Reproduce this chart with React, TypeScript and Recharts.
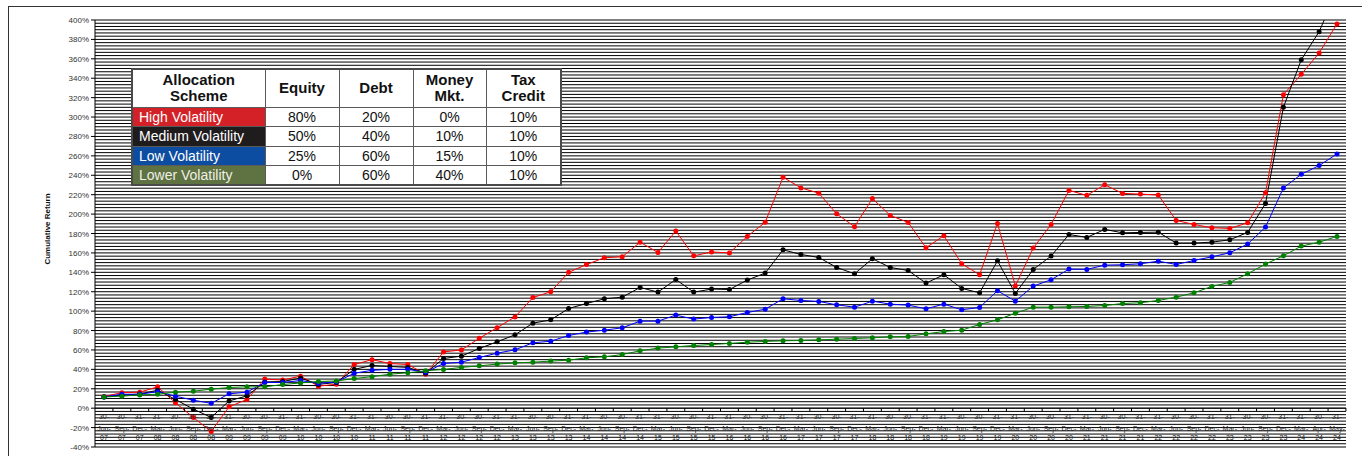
import React from 'react';
import { LineChart, Line, XAxis, YAxis, CartesianGrid, ReferenceLine } from 'recharts';

const WIDTH = 1362;
const HEIGHT = 456;
const Y_AXIS_W = 95;
const X_AXIS_H = 1;
const X_PAD = 9;
const MARGIN = { top: 20, right: 16, bottom: 8, left: 0 };
const Y_MIN = -40;
const Y_MAX = 400;
const FONT = "Arial, 'Liberation Sans', sans-serif";

const dates = [
  '30-Jun-07', '30-Sep-07', '31-Dec-07', '31-Mar-08', '30-Jun-08', '30-Sep-08', '31-Dec-08',
  '31-Mar-09', '30-Jun-09', '30-Sep-09', '31-Dec-09', '31-Mar-10', '30-Jun-10', '30-Sep-10',
  '31-Dec-10', '31-Mar-11', '30-Jun-11', '30-Sep-11', '31-Dec-11', '31-Mar-12', '30-Jun-12',
  '30-Sep-12', '31-Dec-12', '31-Mar-13', '30-Jun-13', '30-Sep-13', '31-Dec-13', '31-Mar-14',
  '30-Jun-14', '30-Sep-14', '31-Dec-14', '31-Mar-15', '30-Jun-15', '30-Sep-15', '31-Dec-15',
  '31-Mar-16', '30-Jun-16', '30-Sep-16', '31-Dec-16', '31-Mar-17', '30-Jun-17', '30-Sep-17',
  '31-Dec-17', '31-Mar-18', '30-Jun-18', '30-Sep-18', '31-Dec-18', '31-Mar-19', '30-Jun-19',
  '30-Sep-19', '31-Dec-19', '31-Mar-20', '30-Jun-20', '30-Sep-20', '31-Dec-20', '31-Mar-21',
  '30-Jun-21', '30-Sep-21', '31-Dec-21', '31-Mar-22', '30-Jun-22', '30-Sep-22', '31-Dec-22',
  '31-Mar-23', '30-Jun-23', '30-Sep-23', '31-Dec-23', '31-Mar-24', '30-Apr-24', '31-May-24',
];

// cumulative return, in percent
const highVolatility = [
  12, 16, 16.5, 22, 5.5, -9.6, -24, 1.4, 9, 30, 29, 33, 22.7, 24.7, 45, 50, 46, 45, 35, 58,
  60, 72, 83, 94, 114, 120, 140, 148, 155, 156, 171, 160.5, 182.5, 157, 161, 160, 177, 191.5,
  238, 227, 221.6, 200.3, 187, 216, 198.6, 191.4, 165.3, 177.7, 148.8, 137.5, 190.4, 126, 165,
  189.3, 224.4, 219.3, 230.2, 221.3, 220.6, 219.6, 193.5, 189.3, 185.9, 185.2, 191, 222, 323,
  344, 366, 396,
];
const mediumVolatility = [
  11.6, 13.5, 14.5, 18.5, 9, -1, -9.5, 7.5, 12.7, 27, 27.5, 31, 24.5, 26.5, 40, 44, 43, 42, 36,
  51.2, 53.6, 61.5, 68.4, 75.6, 87.6, 91, 102.7, 107.9, 112.7, 114.4, 124.4, 119.6, 132.6,
  119.6, 122.7, 122.3, 132, 139.2, 163.2, 158.4, 155.3, 145, 138.5, 154, 145, 141.9, 128.9,
  137.5, 123.4, 118.9, 151.9, 118.2, 143, 156.7, 179, 176, 184.2, 180.7, 181.1, 181.4, 170.1,
  170.1, 171.1, 173.5, 181.1, 211, 310, 359, 388, 430,
];
const lowVolatility = [
  11.6, 14.4, 14.4, 17, 12.4, 8.2, 5, 14.8, 16.5, 26.5, 26.5, 28.5, 25.5, 27, 36, 39, 40, 40,
  37, 46, 47.4, 52.2, 56.7, 60.1, 67.4, 69, 74.9, 78.4, 80.4, 82.8, 89.7, 89.7, 95.9, 91.8,
  93.5, 94.2, 98.6, 102, 112.7, 111, 110, 106.5, 104.1, 110.3, 107.2, 106.2, 102.4, 107.2,
  101.4, 103.8, 121, 110.3, 125.8, 132.3, 143.3, 143, 147.4, 147.8, 148.8, 151.5, 148.1, 152.2,
  156, 160.1, 169.1, 186.6, 227, 241, 250, 262,
];
const lowerVolatility = [
  11.6, 12.4, 13.7, 14.4, 16.5, 17.5, 19.6, 21.3, 22, 22, 24.4, 26, 27.5, 28, 30.5, 32.5, 35,
  36.5, 38.5, 39.9, 42, 43.6, 45.4, 46.7, 47.4, 48.5, 49.5, 51.9, 52.9, 55.3, 59.1, 61.9, 63.2,
  64.6, 65.6, 66.7, 68, 68.8, 69.4, 69.8, 70.4, 71.1, 71.8, 72.5, 73.5, 73.9, 76.6, 79, 80.4,
  86.3, 91, 97.9, 104.1, 104.1, 104.5, 104.8, 105.8, 107.9, 108.6, 111, 114.4, 118.9, 125.5,
  129.6, 138.5, 148.5, 157, 167, 171, 177,
];

const yLabelTicks = [-40, -20, 0, 20, 40, 60, 80, 100, 120, 140, 160, 180, 200, 220, 240, 260, 280, 300, 320, 340, 360, 380, 400];
// thin rules between labelled ticks
const RULES_PER_STEP = 6;
const gridTicks = yLabelTicks
  .slice(0, -1)
  .flatMap((v, i) => Array.from({ length: RULES_PER_STEP }, (_, k) => v + ((yLabelTicks[i + 1] - v) * k) / RULES_PER_STEP))
  .concat(Y_MAX);

const schemes = [
  { name: 'High Volatility', color: '#d42128', text: '#ffffff', equity: '80%', debt: '20%', money: '0%', tax: '10%' },
  { name: 'Medium Volatility', color: '#1f1c1d', text: '#ffffff', equity: '50%', debt: '40%', money: '10%', tax: '10%' },
  { name: 'Low Volatility', color: '#0d4da1', text: '#ffffff', equity: '25%', debt: '60%', money: '15%', tax: '10%' },
  { name: 'Lower Volatility', color: '#5f7241', text: '#eef0e8', equity: '0%', debt: '60%', money: '40%', tax: '10%' },
];

const data = dates.map((date, i) => ({
  date,
  high: highVolatility[i],
  medium: mediumVolatility[i],
  low: lowVolatility[i],
  lower: lowerVolatility[i],
}));

const plotH = HEIGHT - MARGIN.top - MARGIN.bottom - X_AXIS_H;
const plotW = WIDTH - MARGIN.left - MARGIN.right - Y_AXIS_W;
const zeroFromBottom = ((0 - Y_MIN) / (Y_MAX - Y_MIN)) * plotH;
const halfStep = (plotW - 2 * X_PAD) / (dates.length - 1) / 2;

const YTick = (props: any) => {
  const { x, y, payload } = props;
  const v = payload.value as number;
  if (!yLabelTicks.some((t) => Math.abs(t - v) < 0.01)) return <g />;
  return (
    <g>
      <line x1={x - 4} x2={x} y1={y} y2={y} stroke="#000" />
      <text x={x - 6} y={y} dy={3} textAnchor="end" fontSize={8} fill="#333" fontFamily={FONT}>
        {`${Math.round(v)}%`}
      </text>
    </g>
  );
};

// date labels sit under the 0% line, stacked on three rows
const XTick = (props: any) => {
  const { x, y, payload } = props;
  const [d, m, yy] = String(payload.value).split('-');
  const y0 = y - zeroFromBottom;
  return (
    <g>
      <line x1={x + halfStep} x2={x + halfStep} y1={y0} y2={y0 + 3} stroke="#000" />
      <text textAnchor="middle" fontSize={7} fill="#222" fontFamily={FONT}>
        <tspan x={x} y={y0 + 10.5}>{`${d}-`}</tspan>
        <tspan x={x} y={y0 + 22.5}>{`${m}-`}</tspan>
        <tspan x={x} y={y0 + 31.5}>{yy}</tspan>
      </text>
    </g>
  );
};

const cell: React.CSSProperties = {
  border: '1px solid #5a5a5a',
  textAlign: 'center',
  padding: 0,
  fontSize: 14,
  color: '#111',
  background: '#fff',
};

const AllocationTable = () => (
  <table
    style={{
      position: 'absolute',
      left: 131,
      top: 68,
      width: 429,
      height: 116,
      borderCollapse: 'collapse',
      border: '2px solid #4a4a4a',
      fontFamily: FONT,
      tableLayout: 'fixed',
    }}
  >
    <colgroup>
      <col style={{ width: 133 }} />
      <col style={{ width: 74 }} />
      <col style={{ width: 74 }} />
      <col style={{ width: 73 }} />
      <col style={{ width: 75 }} />
    </colgroup>
    <thead>
      <tr style={{ height: 38 }}>
        {['Allocation\nScheme', 'Equity', 'Debt', 'Money\nMkt.', 'Tax\nCredit'].map((h) => (
          <th key={h} style={{ ...cell, fontSize: 15, fontWeight: 700, lineHeight: '16px', whiteSpace: 'pre-line' }}>
            {h}
          </th>
        ))}
      </tr>
    </thead>
    <tbody>
      {schemes.map((s) => (
        <tr key={s.name} style={{ height: 19.5 }}>
          <td style={{ ...cell, background: s.color, color: s.text, textAlign: 'left', paddingLeft: 6, whiteSpace: 'nowrap' }}>
            {s.name}
          </td>
          <td style={cell}>{s.equity}</td>
          <td style={cell}>{s.debt}</td>
          <td style={cell}>{s.money}</td>
          <td style={cell}>{s.tax}</td>
        </tr>
      ))}
    </tbody>
  </table>
);

export default function App() {
  return (
    <div style={{ position: 'relative', width: WIDTH, height: HEIGHT, background: '#fff', overflow: 'hidden' }}>
      <style>{'body{margin:0;overflow:hidden}'}</style>
      <div
        style={{
          position: 'absolute',
          left: 8,
          top: 6,
          right: 0,
          bottom: 0,
          borderLeft: '1px solid #333',
          borderTop: '1px solid #333',
        }}
      />
      <div style={{ position: 'absolute', left: 0, top: 0 }}>
        <LineChart width={WIDTH} height={HEIGHT} data={data} margin={MARGIN}>
          <CartesianGrid vertical={false} stroke="#000" strokeWidth={1} />
          <XAxis
            dataKey="date"
            height={X_AXIS_H}
            interval={0}
            padding={{ left: X_PAD, right: X_PAD }}
            axisLine={false}
            tickLine={false}
            tickSize={0}
            tickMargin={0}
            tick={<XTick />}
          />
          <YAxis
            type="number"
            width={Y_AXIS_W}
            domain={[Y_MIN, Y_MAX]}
            ticks={gridTicks}
            interval={0}
            allowDataOverflow
            axisLine={{ stroke: '#000' }}
            tickLine={false}
            tickSize={0}
            tickMargin={0}
            tick={<YTick />}
          />
          <ReferenceLine y={0} stroke="#000" strokeWidth={1} />
          <Line dataKey="high" stroke="#ff0000" strokeWidth={1} dot={{ r: 2.5, fill: '#ff0000', stroke: '#ff0000', strokeWidth: 0 }} isAnimationActive={false} />
          <Line dataKey="medium" stroke="#000000" strokeWidth={1} dot={{ r: 2.5, fill: '#000000', stroke: '#000000', strokeWidth: 0 }} isAnimationActive={false} />
          <Line dataKey="low" stroke="#0000ff" strokeWidth={1} dot={{ r: 2.5, fill: '#0000ff', stroke: '#0000ff', strokeWidth: 0 }} isAnimationActive={false} />
          <Line dataKey="lower" stroke="#008000" strokeWidth={1} dot={{ r: 2.5, fill: '#008000', stroke: '#008000', strokeWidth: 0 }} isAnimationActive={false} />
        </LineChart>
      </div>
      <div
        style={{
          position: 'absolute',
          left: 47,
          top: 229,
          transform: 'translate(-50%, -50%) rotate(-90deg)',
          fontFamily: FONT,
          fontSize: 8,
          fontWeight: 700,
          color: '#111',
          whiteSpace: 'nowrap',
        }}
      >
        Cumulative Return
      </div>
      <AllocationTable />
    </div>
  );
}
